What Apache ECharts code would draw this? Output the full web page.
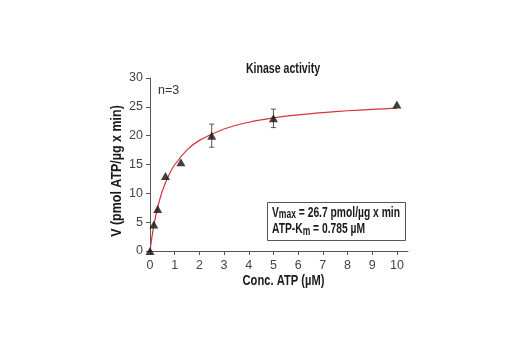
<!DOCTYPE html>
<html>
<head>
<meta charset="utf-8">
<script src="https://cdn.jsdelivr.net/npm/echarts@6/dist/echarts.min.js"></script>
<style>
  html, body { margin: 0; padding: 0; background: #fff; }
  #chart { width: 520px; height: 350px; }
</style>
</head>
<body>
<div id="chart"></div>
<script>
// ATP concentrations (µM) and measured kinase velocities (pmol ATP/µg x min)
var concATP = [0, 0.156, 0.3125, 0.625, 1.25, 2.5, 5, 10];
var velocity = [0, 4.6, 7.3, 13.0, 15.4, 20.0, 23.0, 25.4];
var velocityErr = [0, 0, 0, 0, 0, 2.0, 1.6, 0];

// Fitted curve samples
var fitConc = [0, 0.1, 0.2, 0.3, 0.5, 0.75, 1, 1.5, 2, 3, 4, 5, 6, 7, 8, 9, 10];
var fitVelocity = [0, 3.0, 5.4, 7.4, 10.4, 13.05, 14.96, 17.53, 19.18, 21.16, 22.32, 23.08, 23.61, 24.01, 24.32, 24.56, 24.76];

var xTicks = [0, 1, 2, 3, 4, 5, 6, 7, 8, 9, 10];

var FONT = '"Liberation Sans", Arial, sans-serif';
var INK = '#1a1a1a';

var chart = echarts.init(document.getElementById('chart'), null, { renderer: 'canvas' });

var pointData = concATP.map(function (x, i) { return [x, velocity[i]]; });
var errData = concATP.map(function (x, i) { return [x, velocity[i] - velocityErr[i], velocity[i] + velocityErr[i]]; })
  .filter(function (d, i) { return velocityErr[i] > 0; });
var fitData = fitConc.map(function (x, i) { return [x, fitVelocity[i]]; });

// Condensed bold text helper (horizontal squeeze around the anchor point)
function narrowText(text, x, y, size, sx, extra) {
  var el = {
    type: 'text', x: x, y: y, scaleX: sx, z: 11,
    style: {
      text: text, x: 0, y: 0, align: 'center', verticalAlign: 'middle',
      font: 'bold ' + size + 'px ' + FONT, fill: INK
    }
  };
  if (extra) { for (var k in extra) el[k] = extra[k]; }
  return el;
}

chart.setOption({
  animation: false,
  backgroundColor: '#ffffff',
  grid: { left: 150, right: 112, top: 78, bottom: 99 },
  xAxis: {
    type: 'value', min: 0, max: 10.45,
    axisLine: { show: true, lineStyle: { color: '#555', width: 1 } },
    axisTick: { show: true, length: 4, customValues: xTicks, lineStyle: { color: '#555' } },
    axisLabel: { customValues: xTicks, margin: 8, fontFamily: FONT, fontSize: 12.5, color: '#444' },
    splitLine: { show: false }
  },
  yAxis: {
    type: 'value', min: 0, max: 30, interval: 5,
    axisLine: { show: true, lineStyle: { color: '#555', width: 1 } },
    axisTick: { show: true, length: 4, lineStyle: { color: '#555' } },
    axisLabel: { margin: 7, fontFamily: FONT, fontSize: 12.5, color: '#444' },
    splitLine: { show: false }
  },
  graphic: [
    narrowText('Kinase activity', 283, 69, 14.5, 0.73),
    narrowText('Conc. ATP (µM)', 283.5, 281, 14.5, 0.77),
    narrowText('V (pmol ATP/µg x min)', 117, 171, 14.5, 0.86, { rotation: Math.PI / 2 }),
    {
      type: 'text', x: 158, y: 84,
      style: { text: 'n=3', font: '12.5px ' + FONT, fill: '#333' }
    },
    {
      type: 'rect', shape: { x: 267.5, y: 202.5, width: 138, height: 38 },
      style: { fill: '#fff', stroke: '#555', lineWidth: 1 }, z: 10
    },
    {
      type: 'text', x: 272, y: 204.5, scaleX: 0.71, z: 11,
      style: {
        text: '{b|V}{s|max}{b| = 26.7 pmol/µg x min}\n{b|ATP-K}{s|m}{b| = 0.785 µM}',
        x: 0, y: 0,
        rich: {
          b: { fontFamily: FONT, fontSize: 14.5, fontWeight: 'bold', fill: INK, lineHeight: 16.5 },
          s: { fontFamily: FONT, fontSize: 12, fontWeight: 'bold', fill: INK, lineHeight: 16.5, verticalAlign: 'bottom', padding: [4, 0, 0, 0] }
        }
      }
    }
  ],
  series: [
    {
      type: 'line', data: fitData, smooth: 0.3, showSymbol: false,
      lineStyle: { color: '#d8323c', width: 1.2 }, z: 2
    },
    {
      type: 'custom', z: 3,
      renderItem: function (params, api) {
        var x = api.coord([api.value(0), 0])[0];
        var lo = api.coord([api.value(0), api.value(1)])[1];
        var hi = api.coord([api.value(0), api.value(2)])[1];
        var cap = 2.5;
        var st = { stroke: '#555', lineWidth: 1 };
        return {
          type: 'group',
          children: [
            { type: 'line', shape: { x1: x, y1: lo, x2: x, y2: hi }, style: st },
            { type: 'line', shape: { x1: x - cap, y1: lo, x2: x + cap, y2: lo }, style: st },
            { type: 'line', shape: { x1: x - cap, y1: hi, x2: x + cap, y2: hi }, style: st }
          ]
        };
      },
      data: errData
    },
    {
      type: 'scatter', data: pointData, symbol: 'triangle', symbolSize: [9, 8],
      itemStyle: { color: '#111' }, z: 4
    }
  ]
});
</script>
</body>
</html>
